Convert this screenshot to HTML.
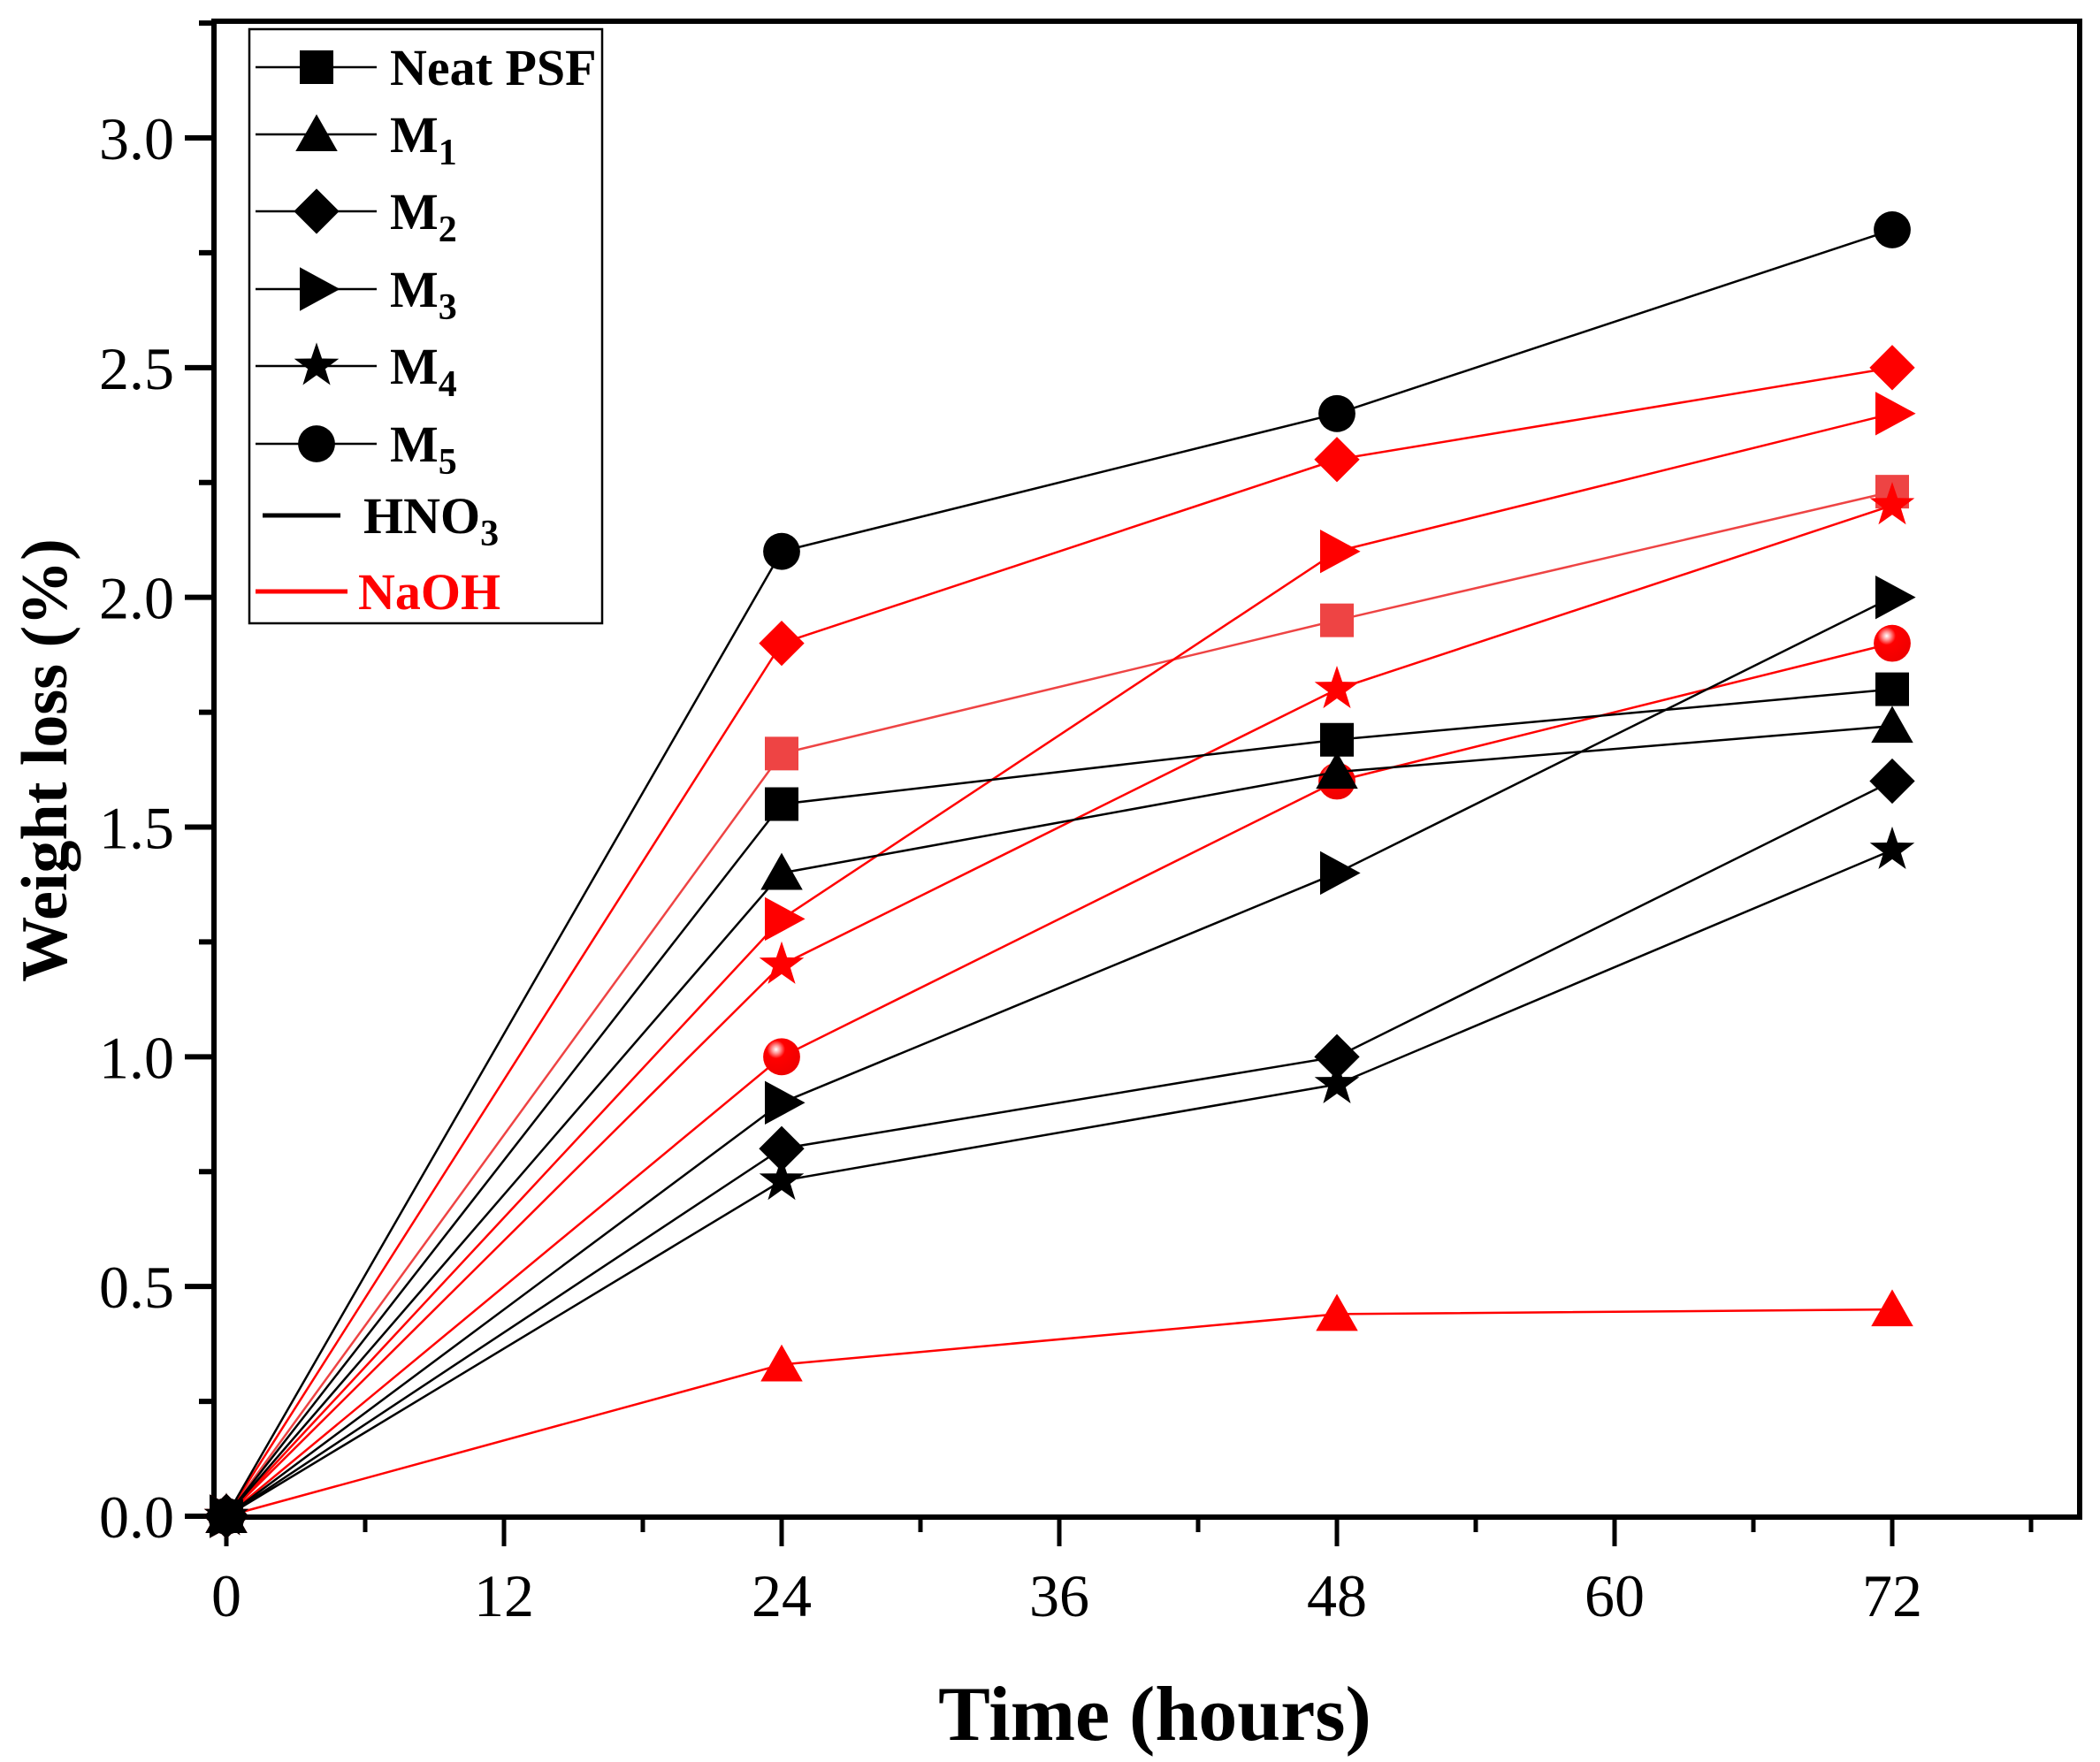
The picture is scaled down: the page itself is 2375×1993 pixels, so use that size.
<!DOCTYPE html>
<html><head><meta charset="utf-8">
<style>
html,body{margin:0;padding:0;background:#fff;}
svg{display:block;font-family:"Liberation Serif",serif;}
</style></head>
<body>
<svg id="chart" width="2375" height="1993" viewBox="0 0 2375 1993">
<g id="axes"></g>
<g id="series"></g>
<g id="legend"></g>
</svg>
<script>
const hours = [0, 24, 48, 72];
const seriesNames = ["Neat PSF","M1","M2","M3","M4","M5"];
const hno3Neat = [0, 1.55, 1.69, 1.80];
const hno3M1 = [0, 1.40, 1.62, 1.72];
const hno3M2 = [0, 0.80, 1.00, 1.60];
const hno3M3 = [0, 0.90, 1.40, 2.00];
const hno3M4 = [0, 0.73, 0.94, 1.45];
const hno3M5 = [0, 2.10, 2.40, 2.80];
const naohNeat = [0, 1.66, 1.95, 2.23];
const naohM1 = [0, 0.33, 0.44, 0.45];
const naohM2 = [0, 1.90, 2.30, 2.50];
const naohM3 = [0, 1.30, 2.10, 2.40];
const naohM4 = [0, 1.20, 1.80, 2.20];
const naohM5 = [0, 1.00, 1.60, 1.90];
const xTicks = [0, 12, 24, 36, 48, 60, 72];
const yTicks = ["0.0","0.5","1.0","1.5","2.0","2.5","3.0"];

const NS = "http://www.w3.org/2000/svg";
const L = 242, R = 2352, T = 24, B = 1716;
function xs(v){ return 256 + v * (2140 - 256) / 72; }
function ys(v){ return 1715 - v * (1715 - 156) / 3; }
function mk(tag, attrs, parent){
  const e = document.createElementNS(NS, tag);
  for (const k in attrs) e.setAttribute(k, attrs[k]);
  parent.appendChild(e);
  return e;
}
const axes = document.getElementById('axes');
const ser = document.getElementById('series');
const leg = document.getElementById('legend');

let fr = mk('rect', {x:L, y:T, width:R-L, height:B-T, fill:'none', stroke:'#000', 'stroke-width':6}, axes);



for (let h = 0; h <= 78; h += 6) {
  const major = h % 12 === 0;
  const t = mk('line', {x1:xs(h), x2:xs(h), y1:B, y2:B + (major ? 33 : 17), stroke:'#000', 'stroke-width':5}, axes);
  
  
}
xTicks.forEach(v => {
  const t = mk('text', {x:xs(v), y:1828, 'font-size':68, 'text-anchor':'middle'}, axes);
  t.textContent = v;
  
  
});
for (let i = 0; i <= 13; i++) {
  const v = i * 0.25;
  const major = i % 2 === 0;
  const t = mk('line', {x1:L - (major ? 33 : 17), x2:L, y1:ys(v), y2:ys(v), stroke:'#000', 'stroke-width':6}, axes);
  
  
}
yTicks.forEach(s => {
  const t = mk('text', {x:197, y:ys(parseFloat(s)) + 24, 'font-size':68, 'text-anchor':'end'}, axes);
  t.textContent = s;
  
  
});
let xt = mk('text', {x:1306, y:1968, 'font-size':88, 'font-weight':'bold', 'text-anchor':'middle'}, axes);
xt.textContent = 'Time (hours)';


let yt = mk('text', {x:0, y:0, 'font-size':74, 'font-weight':'bold', 'text-anchor':'middle', transform:'translate(75,860) rotate(-90)'}, axes);
yt.textContent = 'Weight loss (%)';



const defs = mk('defs', {}, document.getElementById('chart'));
const rg = mk('radialGradient', {id:'shine', cx:'0.35', cy:'0.3', r:'0.7'}, defs);
mk('stop', {offset:'0', 'stop-color':'#fff'}, rg);
mk('stop', {offset:'0.15', 'stop-color':'#ff9a9a'}, rg);
mk('stop', {offset:'0.35', 'stop-color':'#ff0000'}, rg);
mk('stop', {offset:'1', 'stop-color':'#f00000'}, rg);

function marker(type, cx, cy, fill, parent, s){
  s = s || 19;
  let e;
  if (type === 'square') e = mk('rect', {x:cx-s, y:cy-s, width:2*s, height:2*s, fill}, parent);
  else if (type === 'triangle') e = mk('polygon', {points:`${cx},${cy-s*1.2} ${cx-s*1.25},${cy+s} ${cx+s*1.25},${cy+s}`, fill}, parent);
  else if (type === 'diamond') e = mk('polygon', {points:`${cx},${cy-s*1.35} ${cx+s*1.35},${cy} ${cx},${cy+s*1.35} ${cx-s*1.35},${cy}`, fill}, parent);
  else if (type === 'right') e = mk('polygon', {points:`${cx-s},${cy-s*1.3} ${cx+s*1.4},${cy} ${cx-s},${cy+s*1.3}`, fill}, parent);
  else if (type === 'star') {
    let p = [];
    for (let k = 0; k < 10; k++) {
      const r = k % 2 ? s*0.55 : s*1.4;
      const a = -Math.PI/2 + k*Math.PI/5;
      p.push((cx + r*Math.cos(a)).toFixed(1) + ',' + (cy + r*Math.sin(a)).toFixed(1));
    }
    e = mk('polygon', {points:p.join(' '), fill}, parent);
  }
  else e = mk('circle', {cx, cy, r:s*1.1, fill}, parent);
  return e;
}

const types = ['square','triangle','diamond','right','star','circle'];
const hno3 = [hno3Neat, hno3M1, hno3M2, hno3M3, hno3M4, hno3M5];
const naoh = [naohNeat, naohM1, naohM2, naohM3, naohM4, naohM5];

function drawSeries(data, idx, color, mfill, label){
  const g = mk('g', {}, ser);
  
  
  const pts = data.map((v,i) => xs(hours[i]) + ',' + ys(v)).join(' ');
  const pl = mk('polyline', {points:pts, fill:'none', stroke:color, 'stroke-width':2.5}, g);
  
  
  data.forEach((v,i) => {
    const m = marker(types[idx], xs(hours[i]), ys(v), mfill, g);
    
    
  });
}
naoh.forEach((d,i) => drawSeries(d, i, i === 0 ? '#ee4444' : '#ff0000', i === 0 ? '#ee4444' : (i === 5 ? 'url(#shine)' : '#ff0000'), 'naoh'));
hno3.forEach((d,i) => drawSeries(d, i, '#000', '#000', 'hno3'));

const lb = mk('rect', {x:282, y:33, width:399, height:672, fill:'#fff', stroke:'#000', 'stroke-width':2.5}, leg);


const legY = [76, 152, 239, 327, 414, 502];
const legSub = ['', '1', '2', '3', '4', '5'];
seriesNames.forEach((n,i) => {
  const g = mk('g', {}, leg);
  
  
  mk('line', {x1:289, x2:426, y1:legY[i], y2:legY[i], stroke:'#000', 'stroke-width':2.5}, g);
  marker(types[i], 358, legY[i], '#000', g);
  const t = mk('text', {x:441, y:legY[i] + 20, 'font-size':58, 'font-weight':'bold'}, g);
  if (i === 0) t.textContent = 'Neat PSF';
  else {
    t.textContent = 'M';
    const s = mk('tspan', {dy:14, 'font-size':42}, t);
    s.textContent = legSub[i];
  }
});
let g1 = mk('g', {}, leg);


mk('line', {x1:297, x2:385, y1:583, y2:583, stroke:'#000', 'stroke-width':5}, g1);
let th = mk('text', {x:411, y:603, 'font-size':58, 'font-weight':'bold'}, g1);
th.textContent = 'HNO';
let ts = mk('tspan', {dy:14, 'font-size':42}, th);
ts.textContent = '3';
let g2 = mk('g', {}, leg);


mk('line', {x1:289, x2:393, y1:669, y2:669, stroke:'#ff0000', 'stroke-width':5}, g2);
let tn = mk('text', {x:405, y:689, 'font-size':58, 'font-weight':'bold', fill:'#ff0000'}, g2);
tn.textContent = 'NaOH';
</script>
</body></html>
